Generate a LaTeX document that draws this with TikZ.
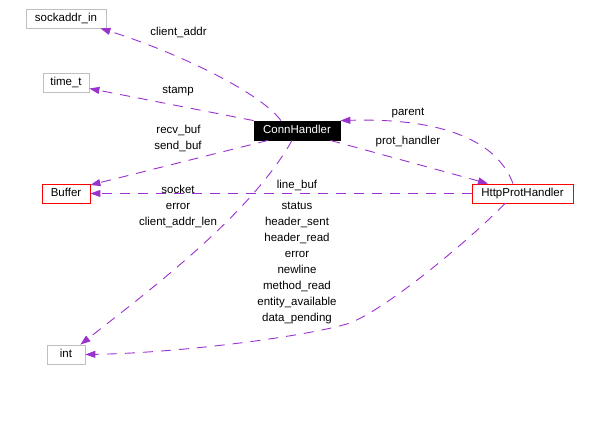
\documentclass[tikz,border=0pt]{standalone}
\usepackage{fontspec}
\setmainfont{Liberation Sans}
\usetikzlibrary{arrows.meta}
\definecolor{edgecol}{RGB}{154,50,205}
\definecolor{graybd}{RGB}{191,191,191}
\definecolor{redbd}{RGB}{255,0,0}
\tikzset{
  box/.style={draw, line width=0.8pt, minimum height=19pt, inner sep=0pt, font=\fontsize{11.5}{13}\selectfont, text height=8pt, text depth=2pt},
  graybox/.style={box, draw=graybd},
  redbox/.style={box, draw=redbd},
  blackbox/.style={box, draw=black, fill=black, text=white},
  lbl/.style={inner sep=0pt, yshift=-1.5pt, font=\fontsize{11.5}{13}\selectfont, text height=8pt, text depth=2pt},
  rel/.style={draw=edgecol, line width=0.9pt, dash pattern=on 10pt off 8pt, -{Triangle[length=10pt,width=7pt,fill=edgecol]}}
}
\begin{document}
\begin{tikzpicture}[x=1pt,y=-1pt]
\useasboundingbox (0,0) rectangle (598,427);
% nodes
\node[graybox, minimum width=80pt] (s) at (66,18.5) {sockaddr\_in};
\node[graybox, minimum width=46pt] (t) at (66,82.5) {time\_t};
\node[redbox, minimum width=48pt] (b) at (66,193.5) {Buffer};
\node[blackbox, minimum width=86pt] (c) at (297,130.5) {ConnHandler};
\node[redbox, minimum width=101pt] (h) at (522.5,193.5) {HttpProtHandler};
\node[graybox, minimum width=38pt] (i) at (66,354.5) {int};
% edges
\draw[rel] ([xshift=-16pt]c.north) .. controls (258,90) and (170,50) .. ([xshift=-6pt]s.south east);
\draw[rel] (c.north west) -- ([yshift=-6pt]t.east);
\draw[rel] ([xshift=-29pt]c.south) -- ([yshift=8.5pt]b.east);
\draw[rel] (h.west) -- (b.east);
\draw[rel] ([xshift=-5pt]c.south) .. controls (250,215) and (150,290) .. ([xshift=-5pt]i.north east);
\coordinate (m) at (350,323);
\draw[rel] ([xshift=-17.5pt]h.south) .. controls (475,235) and (390,307) .. (m) .. controls (310,336) and (180,353) .. (i.east);
\draw[rel] ([xshift=-10pt]c.south east) -- ([xshift=-34.5pt]h.north);
\draw[rel] ([xshift=-9.5pt]h.north) .. controls (495,135) and (430,118) .. (c.north east);
% labels
\node[lbl] (l1) at (178.5,31.5) {client\_addr};
\node[lbl] (l2) at (178,89) {stamp};
\node[lbl] (l3) at (178.5,129) {recv\_buf};
\node[lbl] (l4) at (178,145) {send\_buf};
\node[lbl] (l5) at (178,189) {socket};
\node[lbl] (l6) at (178,205) {error};
\node[lbl] (l7) at (178,221) {client\_addr\_len};
\node[lbl] (l8) at (297,184) {line\_buf};
\node[lbl] (l9) at (297,205) {status};
\node[lbl] (l10) at (297,221) {header\_sent};
\node[lbl] (l11) at (297,237) {header\_read};
\node[lbl] (l12) at (297,253) {error};
\node[lbl] (l13) at (297,269) {newline};
\node[lbl] (l14) at (297,285) {method\_read};
\node[lbl] (l15) at (297,301) {entity\_available};
\node[lbl] (l16) at (297,317) {data\_pending};
\node[lbl] (l17) at (408,140.5) {prot\_handler};
\node[lbl] (l18) at (408,111.5) {parent};
\end{tikzpicture}
\end{document}
